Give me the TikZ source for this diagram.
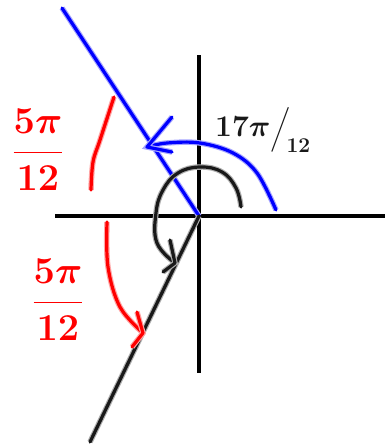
\RequirePackage{fix-cm}
\documentclass[tikz,border=0pt]{standalone}
\usepackage{amsmath}
\usetikzlibrary{positioning}

\colorlet{pen_blue}{blue}
\colorlet{pen_red}{red}
\colorlet{pen_black}{black!90}

\tikzset{
    stroke/.style={line width=3.2pt, line cap=round, line join=round},
    glow/.style={stroke, draw=#1, preaction={draw=#1!35, line width=5.5pt}},
    axis/.style={line width=3.6pt, draw=black},
    handlabel/.style={inner sep=0pt, font=\fontsize{38}{42}\selectfont\boldmath}
}

\begin{document}
\begin{tikzpicture}[x=1pt, y=-1pt]
    \useasboundingbox (0,0) rectangle (385,445);

    % axes
    \coordinate (O) at (199,216);
    \draw[axis] (55,216) -- (385,216);
    \draw[axis] (199,55) -- (199,373);

    % terminal side and its reflection
    \coordinate (blueEnd) at (62,8);
    \coordinate (blackEnd) at (90,442);
    \draw[glow=pen_blue] (blueEnd) -- (O);
    \draw[glow=pen_black] (O) -- (blackEnd);

    % angle 17pi/12 drawn to the blue side
    \coordinate (blueTip) at (147,147);
    \draw[glow=pen_blue] plot[smooth, tension=0.6] coordinates {(276,210) (257,173) (233,153) (200,143) (167,143) (blueTip)};
    \draw[glow=pen_blue] (172,117) -- (blueTip) -- (172,152);

    % angle 17pi/12 drawn all the way round
    \coordinate (blackTip) at (175,263);
    \draw[glow=pen_black] plot[smooth, tension=0.7] coordinates {(241,207) (236,188) (222,172) (200,167) (178,173) (163,190) (156,213) (157,243) (blackTip)};
    \draw[glow=pen_black] (170,240) -- (blackTip) -- (163,272);

    % the two 5pi/12 angles
    \draw[glow=pen_red] plot[smooth, tension=0.6] coordinates {(114,97) (100,140) (93,162) (91,190)};
    \coordinate (redTip) at (143,333);
    \draw[glow=pen_red] plot[smooth, tension=0.6] coordinates {(107,222) (108,267) (120,307) (redTip)};
    \draw[glow=pen_red] (137,312) -- (redTip) -- (132,347);

    % labels
    \node[handlabel, text=pen_red] (topLabel) at (38,150) {$\dfrac{5\pi}{12}$};
    \node[handlabel, text=pen_red] (bottomLabel) at (58,300) {$\dfrac{5\pi}{12}$};
    \node[handlabel, text=pen_black, font=\fontsize{30}{34}\selectfont\boldmath] (turnLabel) at (263,130) {$17\pi\big/_{\!12}$};
\end{tikzpicture}
\end{document}
